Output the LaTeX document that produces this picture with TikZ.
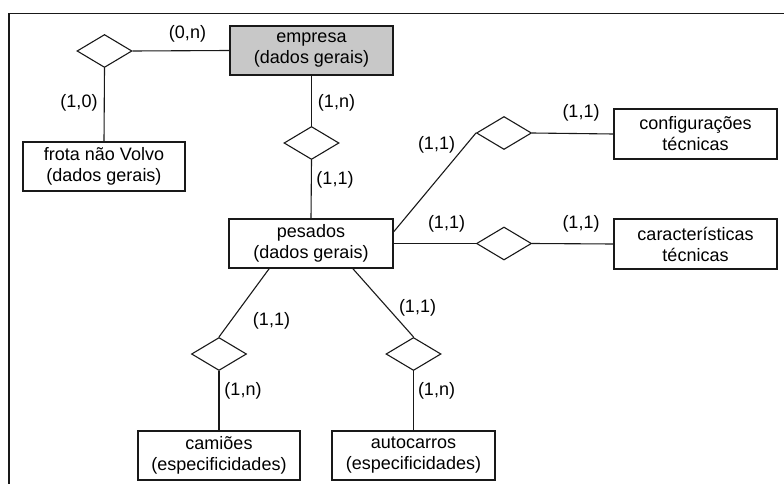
\documentclass[tikz,border=0pt]{standalone}
\usepackage{fontspec}
\setmainfont{Liberation Sans}
\usetikzlibrary{shapes.geometric}
\definecolor{entfill}{RGB}{200,200,200}
\definecolor{inkc}{RGB}{25,25,25}
\begin{document}
\begin{tikzpicture}[x=1pt,y=-1pt,
  every node/.style={font=\fontsize{18}{21}\selectfont, text=black},
  entity/.style={draw=inkc, line width=1.2pt, rectangle, inner sep=0pt,
    minimum width=163pt, minimum height=49pt, align=center},
  relation/.style={draw=inkc, line width=1.1pt, diamond, inner sep=0pt,
    minimum width=55pt, minimum height=33pt},
  link/.style={draw=inkc, line width=1.1pt},
  card/.style={inner sep=0pt}]
\useasboundingbox (0,0) rectangle (784,484);

% outer frame (top and left edges)
\coordinate (ftl) at (9,13.5);
\coordinate (ftr) at (784,13.5);
\coordinate (fbl) at (9,484);
\draw[inkc, line width=1.8pt] (ftr) -- (ftl) -- (fbl);

% entities
\node[entity, fill=entfill] (empresa) at (311.5,50.5) {empresa\\(dados gerais)};
\node[entity, minimum width=162pt] (frota) at (104,166.5) {frota não Volvo\\(dados gerais)};
\node[entity, minimum width=164pt] (pesados) at (311,243.5) {pesados\\(dados gerais)};
\node[entity, minimum height=50pt] (config) at (695.5,134) {configurações\\técnicas};
\node[entity, minimum height=50pt] (caract) at (695.5,244) {características\\técnicas};
\node[entity, minimum width=162pt] (camioes) at (219,455.5) {camiões\\(especificidades)};
\node[entity] (autocarros) at (413.5,455.5) {autocarros\\(especificidades)};

% relationships
\node[relation] (r1) at (104.5,51) {};
\node[relation] (r2) at (311.5,143) {};
\node[relation] (r3) at (504,133) {};
\node[relation] (r4) at (504,243.5) {};
\node[relation] (r5) at (219,354) {};
\node[relation] (r6) at (413.5,354) {};

% connectors
\draw[link] (r1.east) -- (empresa.west);
\draw[link] (r1.south) -- (frota.north);
\draw[link] (empresa.south) -- (r2.north);
\draw[link] (r2.south) -- (pesados.north);
\draw[link] (pesados.8) -- (r3.west);
\draw[link] (r3.east) -- (config.west);
\draw[link] (pesados.east) -- (r4.west);
\draw[link] (r4.east) -- (caract.west);
\draw[link] (pesados.211) -- (r5.north);
\draw[link] (pesados.329) -- (r6.north);
\draw[link] (r5.south) -- (camioes.north);
\draw[link] (r6.south) -- (autocarros.north);

% cardinalities
\node[card] (c1) at (187.5,33.5) {(0,n)};
\node[card] (c2) at (79,103) {(1,0)};
\node[card] (c3) at (336.5,103) {(1,n)};
\node[card] (c4) at (335,180) {(1,1)};
\node[card] (c5) at (436.5,145) {(1,1)};
\node[card] (c6) at (581,113) {(1,1)};
\node[card] (c7) at (446.5,223.5) {(1,1)};
\node[card] (c8) at (581,223.5) {(1,1)};
\node[card] (c9) at (271.5,320.5) {(1,1)};
\node[card] (c10) at (417.5,308) {(1,1)};
\node[card] (c11) at (243,390.5) {(1,n)};
\node[card] (c12) at (436.5,390.5) {(1,n)};
\end{tikzpicture}
\end{document}
